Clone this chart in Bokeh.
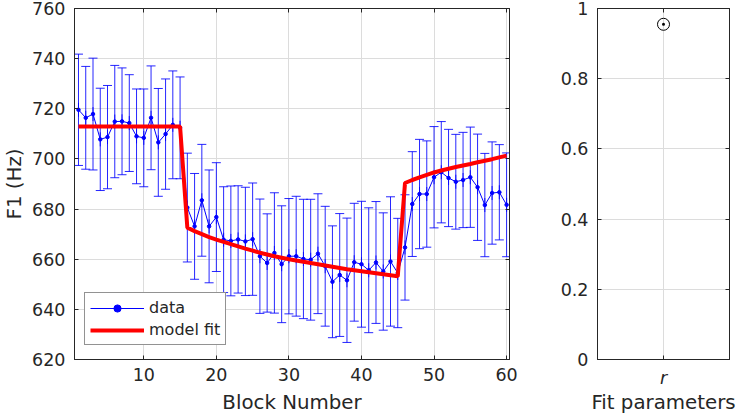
import math
from bokeh.plotting import figure
from bokeh.models import (ColumnDataSource, Whisker, TeeHead, LinearAxis, Legend,
                          LegendItem, FixedTicker, Range1d, Title)
from bokeh.layouts import row
from bokeh.embed import file_html
from bokeh.resources import INLINE

# ---------------- data ----------------
blocks = list(range(1, 61))
f1_mean = [719.6, 716.4, 717.9, 707.8, 708.7, 714.9, 715.0, 714.3, 709.0, 708.4,
           716.4, 706.6, 709.9, 713.6, 712.4,
           680.6, 673.1, 683.5, 673.1, 676.8, 667.8, 667.3, 667.9, 667.1, 668.0,
           661.2, 658.5, 662.5, 658.0, 661.2, 661.2, 660.1, 659.8, 662.2, 657.2,
           651.0, 653.7, 651.6, 658.8, 658.0, 655.6, 658.7, 655.1, 659.1, 654.5,
           664.7, 682.0, 686.0, 686.0, 692.7, 694.7, 692.4, 690.9, 691.6, 692.7,
           688.7, 681.6, 686.4, 686.7, 681.7]
f1_err = [22.2, 20.5, 22.3, 20.4, 20.6, 22.4, 21.3, 19.3, 18.9, 19.5,
          20.7, 21.5, 22.0, 21.5, 20.3,
          21.7, 21.1, 22.3, 22.5, 21.7, 21.1, 21.9, 21.4, 21.6, 22.4,
          22.8, 19.6, 24.0, 23.3, 23.0, 23.9, 23.8, 24.1, 23.9, 23.9,
          22.3, 24.5, 24.8, 23.5, 25.1, 24.9, 24.3, 23.4, 25.8, 21.8,
          21.0, 20.9, 21.8, 21.2, 20.2, 20.2, 19.4, 18.9, 19.0, 20.0,
          21.2, 20.6, 20.4, 19.0, 20.7]
model_fit = [712.9, 712.9, 712.9, 712.9, 712.9, 712.9, 712.9, 712.9, 712.9, 712.9,
             712.9, 712.9, 712.9, 712.9, 712.9,
             672.6, 671.2, 670.0, 668.8, 667.8, 666.9, 666.0, 665.1, 664.2, 663.4,
             662.6, 661.9, 661.2, 660.6, 660.0, 659.5, 659.0, 658.5, 658.0, 657.5,
             657.0, 656.5, 656.0, 655.6, 655.2, 654.8, 654.4, 654.0, 653.6, 653.2,
             690.4, 691.6, 692.6, 693.6, 694.6, 695.4, 696.1, 696.8, 697.4, 698.0,
             698.7, 699.3, 699.9, 700.6, 701.3]
x_ticks = [10, 20, 30, 40, 50, 60]
y_ticks = [620, 640, 660, 680, 700, 720, 740, 760]

param_names = ["r"]
param_pos = [1]
param_values = [0.955]
param_ticks = [0, 0.2, 0.4, 0.6, 0.8, 1]
param_tick_labels = ["0", "0.2", "0.4", "0.6", "0.8", "1"]

# ---------------- style ----------------
FONT = "DejaVu Sans"
TXT = "#262626"
GRID = "#dcdcdc"
TICK_FS = "17.5px"
LABEL_FS = "19.8px"
BLUE = "#0000ff"


def style_axis(ax, show_labels=True):
    ax.axis_line_color = TXT
    ax.axis_line_width = 1
    ax.major_tick_line_color = TXT
    ax.major_tick_in = 4
    ax.major_tick_out = 0
    ax.minor_tick_line_color = None
    ax.major_label_text_font = FONT
    ax.major_label_text_color = TXT
    ax.axis_label_text_font = FONT
    ax.axis_label_text_color = TXT
    ax.axis_label_text_font_style = "normal"
    ax.axis_label_text_font_size = LABEL_FS
    if show_labels:
        ax.major_label_text_font_size = TICK_FS
    else:
        ax.major_label_text_font_size = "1px"
        ax.major_label_text_color = None
        ax.major_label_standoff = 0


def x_title(p, text, ticks, gap_px):
    # an axis drawn in white, used only as a gap between tick labels and the title
    gap = LinearAxis(ticker=FixedTicker(ticks=ticks))
    style_axis(gap, False)
    gap.axis_line_color = None
    gap.major_tick_line_color = "white"
    gap.major_tick_in = 0
    gap.major_tick_out = gap_px
    p.add_layout(gap, "below")
    p.add_layout(Title(text=text, align="center", text_font=FONT,
                       text_font_size=LABEL_FS, text_font_style="normal",
                       text_color=TXT, standoff=-14), "below")


# ---------------- left panel ----------------
lower = [m - e for m, e in zip(f1_mean, f1_err)]
upper = [m + e for m, e in zip(f1_mean, f1_err)]
src = ColumnDataSource(dict(x=blocks, y=f1_mean, lo=lower, hi=upper, fit=model_fit))

p1 = figure(width=541, height=414, x_range=Range1d(0.45, 60.4), y_range=Range1d(620, 760),
            output_backend="svg", toolbar_location=None,
            min_border_left=69, min_border_right=32, min_border_top=8, min_border_bottom=55)
p1.background_fill_color = "white"
p1.border_fill_color = "white"
p1.outline_line_color = TXT
p1.outline_line_width = 1

p1.xaxis.ticker = FixedTicker(ticks=x_ticks)
p1.yaxis.ticker = FixedTicker(ticks=y_ticks)
p1.yaxis.axis_label = "F1 (Hz)"
for ax in p1.xaxis + p1.yaxis:
    style_axis(ax)
p1.xaxis.major_label_standoff = 8
p1.yaxis.major_label_standoff = 9
p1.yaxis.axis_label_standoff = 3

top1 = LinearAxis(ticker=FixedTicker(ticks=x_ticks))
right1 = LinearAxis(ticker=FixedTicker(ticks=y_ticks))
style_axis(top1, False)
style_axis(right1, False)
p1.add_layout(top1, "above")
p1.add_layout(right1, "right")

p1.xgrid.ticker = FixedTicker(ticks=x_ticks)
p1.ygrid.ticker = FixedTicker(ticks=y_ticks)
p1.grid.grid_line_color = GRID
p1.grid.grid_line_width = 1

whisk = Whisker(source=src, base="x", lower="lo", upper="hi",
                line_color=BLUE, line_width=1, line_alpha=0.85,
                upper_head=TeeHead(size=9, line_color=BLUE, line_width=1, line_alpha=0.85),
                lower_head=TeeHead(size=9, line_color=BLUE, line_width=1, line_alpha=0.85))
p1.add_layout(whisk)

data_line = p1.line("x", "y", source=src, line_color=BLUE, line_width=1)
data_bar = p1.scatter("x", "y", source=src, marker="dash", angle=math.pi / 2, size=14,
                      line_color=BLUE, line_width=1, line_alpha=0.85)
data_dot = p1.scatter("x", "y", source=src, marker="circle", size=3.5,
                      fill_color=BLUE, line_color=BLUE)
fit_line = p1.line("x", "fit", source=src, line_color="#ff0000", line_width=4)

legend = Legend(items=[LegendItem(label="data", renderers=[data_line, data_bar, data_dot]),
                       LegendItem(label="model fit", renderers=[fit_line])],
                location=(10, 14))
legend.label_text_font = FONT
legend.label_text_font_size = "16px"
legend.label_text_color = TXT
legend.border_line_color = TXT
legend.border_line_width = 1
legend.background_fill_color = "white"
legend.background_fill_alpha = 1
legend.glyph_width = 54
legend.glyph_height = 18
legend.label_height = 18
legend.label_standoff = 5
legend.spacing = 3
legend.padding = 5
legend.margin = 0
p1.add_layout(legend)
x_title(p1, "Block Number", x_ticks, 12)

# ---------------- right panel ----------------
psrc = ColumnDataSource(dict(x=param_pos, y=param_values, name=param_names))
p2 = figure(width=197, height=414, x_range=Range1d(0.5, 1.5), y_range=Range1d(0, 1),
            output_backend="svg", toolbar_location=None,
            min_border_left=56, min_border_right=9, min_border_top=8, min_border_bottom=55)
p2.background_fill_color = "white"
p2.border_fill_color = "white"
p2.outline_line_color = TXT
p2.outline_line_width = 1

p2.xaxis.ticker = FixedTicker(ticks=param_pos)
p2.xaxis.major_label_overrides = {param_pos[0]: param_names[0]}
p2.yaxis.ticker = FixedTicker(ticks=param_ticks)
p2.yaxis.major_label_overrides = {t: l for t, l in zip(param_ticks, param_tick_labels)}
for ax in p2.xaxis + p2.yaxis:
    style_axis(ax)
p2.xaxis.major_label_text_font_style = "italic"
p2.xaxis.major_label_standoff = 8
p2.yaxis.major_label_standoff = 9

top2 = LinearAxis(ticker=FixedTicker(ticks=param_pos))
right2 = LinearAxis(ticker=FixedTicker(ticks=param_ticks))
style_axis(top2, False)
style_axis(right2, False)
p2.add_layout(top2, "above")
p2.add_layout(right2, "right")

p2.xgrid.ticker = FixedTicker(ticks=param_pos)
p2.ygrid.ticker = FixedTicker(ticks=param_ticks)
p2.grid.grid_line_color = GRID
p2.grid.grid_line_width = 1

p2.scatter("x", "y", source=psrc, marker="circle_dot", size=12,
           line_color="black", fill_color=None, line_width=1)
x_title(p2, "Fit parameters", param_pos, 5)

layout = row(p1, p2)

with open("out.html", "w") as f:
    f.write(file_html(layout, INLINE))
